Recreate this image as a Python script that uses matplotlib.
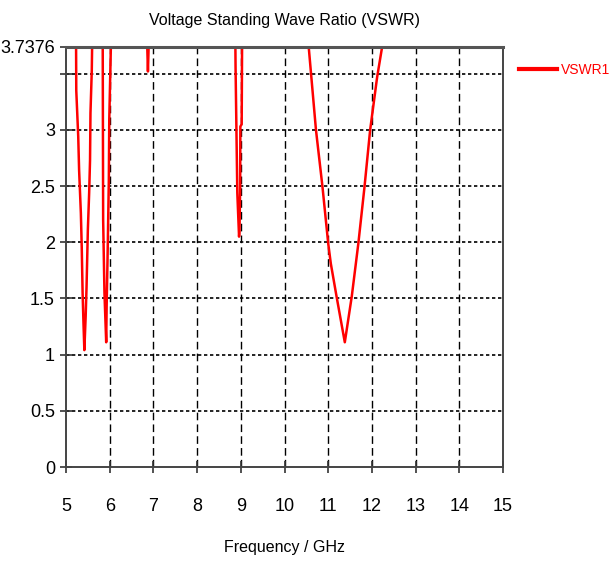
import matplotlib
matplotlib.use("Agg")
import matplotlib.pyplot as plt
import numpy as np

# VSWR1 trace (values above 3.7376 are off the chart)
freq = [5.0, 5.23, 5.235, 5.28, 5.30, 5.34, 5.36, 5.38, 5.40, 5.42, 5.45, 5.47, 5.50,
        5.53, 5.55, 5.56, 5.59, 5.60, 5.72, 5.84, 5.85, 5.88, 5.92, 5.93, 5.95, 5.98,
        5.99, 6.03, 6.5, 6.855, 6.875, 6.895, 7.8, 8.875, 8.88, 8.92, 8.96, 8.97,
        8.985, 8.99, 9.02, 9.03, 9.8, 10.54, 10.72, 10.87, 11.00, 11.06, 11.19, 11.38,
        11.54, 11.69, 11.83, 11.96, 12.12, 12.26, 13.5, 15.0]
vswr = [6.0, 3.8, 3.35, 2.94, 2.64, 2.26, 1.96, 1.55, 1.28, 1.04, 1.34, 1.60, 2.11,
        2.44, 2.73, 3.15, 3.53, 3.8, 6.0, 3.8, 2.20, 1.55, 1.11, 1.43, 1.84, 2.55,
        3.09, 3.8, 6.0, 3.8, 3.52, 3.8, 6.0, 3.8, 3.56, 2.44, 2.05, 2.10,
        2.49, 3.03, 3.05, 3.8, 6.0, 3.8, 3.0, 2.49, 1.99, 1.81, 1.52, 1.11,
        1.52, 1.99, 2.49, 3.0, 3.47, 3.8, 6.0, 6.0]

y_top = 3.7376
x_ticks = list(range(5, 16))
y_ticks = [0, 0.5, 1, 1.5, 2, 2.5, 3, 3.5, y_top]
y_labels = ['0', '0.5', '1', '1.5', '2', '2.5', '3', '', '3.7376']

plt.rcParams['font.family'] = ['Liberation Sans', 'DejaVu Sans']

fig = plt.figure(figsize=(6.14, 5.63), dpi=100)
ax = fig.add_axes([66 / 614, 1 - 467 / 563, 437 / 614, 420 / 563])

ax.plot(freq, vswr, color='red', linewidth=1.8, label='VSWR1')

ax.set_xlim(5, 15)
ax.set_ylim(0, y_top)
ax.set_xticks(x_ticks)
ax.set_yticks(y_ticks)
ax.set_yticklabels(y_labels)

for x in x_ticks[1:-1]:
    ax.axvline(x, color='black', linewidth=1.0, linestyle=(0, (5.5, 3)), zorder=0)
for y in y_ticks[1:-1]:
    ax.axhline(y, color='black', linewidth=1.2, linestyle=(0, (2, 1.6)), zorder=0)

for s in ['left', 'bottom', 'right']:
    ax.spines[s].set_color('#444444')
    ax.spines[s].set_linewidth(1.4)
ax.spines['top'].set_color('#555555')
ax.spines['top'].set_linewidth(2.2)

ax.tick_params(axis='both', direction='inout', length=8, width=1.2, color='#333333',
               labelsize=13)
ax.tick_params(axis='y', pad=4)
ax.tick_params(axis='x', pad=18)

ax.set_title('Voltage Standing Wave Ratio (VSWR)', fontsize=11.5, pad=16)
ax.set_xlabel('Frequency / GHz', fontsize=11.5, labelpad=18)

leg = fig.legend(loc='center left', bbox_to_anchor=(519 / 614, 1 - 70 / 563),
                 frameon=False, fontsize=10, handlelength=2.7, handletextpad=0.35,
                 labelcolor='red', borderaxespad=0, borderpad=0)
for h in leg.get_lines():
    h.set_linewidth(3)

fig.savefig('out.png', dpi=100)
